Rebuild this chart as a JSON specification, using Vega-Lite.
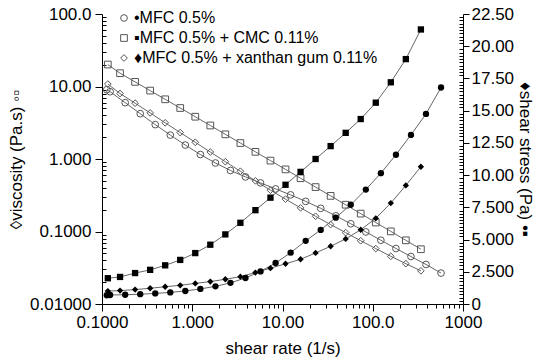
{
  "$schema": "https://vega.github.io/schema/vega-lite/v6.json",
  "width": 361,
  "height": 290,
  "autosize": {"type": "none"},
  "padding": {"left": 102, "top": 14, "right": 77, "bottom": 60},
  "config": {
    "font": "Liberation Sans",
    "view": {"stroke": null},
    "axis": {"grid": false, "domainColor": "black", "tickColor": "black", "labelColor": "black", "titleColor": "black", "labelFontSize": 17, "titleFontSize": 17, "titleFontWeight": "normal", "labelFlush": false, "labelOverlap": false, "domainWidth": 1, "tickWidth": 1}
  },
  "data": {"values": [
    {"s": "MFC 0.5%", "r": 0.113, "v": 9.02, "t": 0.68},
    {"s": "MFC 0.5%", "r": 0.123, "v": 8.47, "t": 0.70},
    {"s": "MFC 0.5%", "r": 0.1807, "v": 5.98, "t": 0.72},
    {"s": "MFC 0.5%", "r": 0.2651, "v": 4.22, "t": 0.76},
    {"s": "MFC 0.5%", "r": 0.389, "v": 2.98, "t": 0.82},
    {"s": "MFC 0.5%", "r": 0.571, "v": 2.137, "t": 0.90},
    {"s": "MFC 0.5%", "r": 0.838, "v": 1.557, "t": 1.01},
    {"s": "MFC 0.5%", "r": 1.23, "v": 1.153, "t": 1.17},
    {"s": "MFC 0.5%", "r": 1.807, "v": 0.881, "t": 1.37},
    {"s": "MFC 0.5%", "r": 2.651, "v": 0.695, "t": 1.64},
    {"s": "MFC 0.5%", "r": 3.89, "v": 0.566, "t": 2.02},
    {"s": "MFC 0.5%", "r": 5.71, "v": 0.468, "t": 2.53},
    {"s": "MFC 0.5%", "r": 8.38, "v": 0.387, "t": 3.18},
    {"s": "MFC 0.5%", "r": 12.3, "v": 0.320, "t": 3.98},
    {"s": "MFC 0.5%", "r": 18.07, "v": 0.2605, "t": 4.9},
    {"s": "MFC 0.5%", "r": 26.51, "v": 0.2087, "t": 5.75},
    {"s": "MFC 0.5%", "r": 38.9, "v": 0.1646, "t": 6.7},
    {"s": "MFC 0.5%", "r": 57.1, "v": 0.1278, "t": 7.7},
    {"s": "MFC 0.5%", "r": 83.8, "v": 0.0986, "t": 8.88},
    {"s": "MFC 0.5%", "r": 123.0, "v": 0.0758, "t": 10.15},
    {"s": "MFC 0.5%", "r": 180.7, "v": 0.0583, "t": 11.58},
    {"s": "MFC 0.5%", "r": 265.1, "v": 0.0452, "t": 13.12},
    {"s": "MFC 0.5%", "r": 389.0, "v": 0.0351, "t": 14.75},
    {"s": "MFC 0.5%", "r": 571.0, "v": 0.0267, "t": 16.8},
    {"s": "MFC 0.5% + CMC 0.11%", "r": 0.116, "v": 20.1, "t": 2.0},
    {"s": "MFC 0.5% + CMC 0.11%", "r": 0.1585, "v": 15.26, "t": 2.1},
    {"s": "MFC 0.5% + CMC 0.11%", "r": 0.2326, "v": 11.58, "t": 2.4},
    {"s": "MFC 0.5% + CMC 0.11%", "r": 0.3415, "v": 8.78, "t": 2.65},
    {"s": "MFC 0.5% + CMC 0.11%", "r": 0.5012, "v": 6.66, "t": 3.0},
    {"s": "MFC 0.5% + CMC 0.11%", "r": 0.7356, "v": 5.05, "t": 3.42},
    {"s": "MFC 0.5% + CMC 0.11%", "r": 1.08, "v": 3.83, "t": 3.95},
    {"s": "MFC 0.5% + CMC 0.11%", "r": 1.585, "v": 2.90, "t": 4.6},
    {"s": "MFC 0.5% + CMC 0.11%", "r": 2.326, "v": 2.19, "t": 5.4},
    {"s": "MFC 0.5% + CMC 0.11%", "r": 3.415, "v": 1.66, "t": 6.3},
    {"s": "MFC 0.5% + CMC 0.11%", "r": 5.012, "v": 1.256, "t": 7.28},
    {"s": "MFC 0.5% + CMC 0.11%", "r": 7.356, "v": 0.950, "t": 8.25},
    {"s": "MFC 0.5% + CMC 0.11%", "r": 10.8, "v": 0.719, "t": 9.25},
    {"s": "MFC 0.5% + CMC 0.11%", "r": 15.85, "v": 0.543, "t": 10.25},
    {"s": "MFC 0.5% + CMC 0.11%", "r": 23.26, "v": 0.410, "t": 11.25},
    {"s": "MFC 0.5% + CMC 0.11%", "r": 34.15, "v": 0.310, "t": 12.25},
    {"s": "MFC 0.5% + CMC 0.11%", "r": 50.12, "v": 0.234, "t": 13.28},
    {"s": "MFC 0.5% + CMC 0.11%", "r": 73.56, "v": 0.1765, "t": 14.35},
    {"s": "MFC 0.5% + CMC 0.11%", "r": 108.0, "v": 0.1331, "t": 15.62},
    {"s": "MFC 0.5% + CMC 0.11%", "r": 158.5, "v": 0.1004, "t": 17.2},
    {"s": "MFC 0.5% + CMC 0.11%", "r": 232.6, "v": 0.0756, "t": 19.0},
    {"s": "MFC 0.5% + CMC 0.11%", "r": 341.5, "v": 0.0570, "t": 21.3},
    {"s": "MFC 0.5% + xanthan gum 0.11%", "r": 0.116, "v": 10.81, "t": 1.0},
    {"s": "MFC 0.5% + xanthan gum 0.11%", "r": 0.1585, "v": 8.00, "t": 1.04},
    {"s": "MFC 0.5% + xanthan gum 0.11%", "r": 0.2326, "v": 5.89, "t": 1.12},
    {"s": "MFC 0.5% + xanthan gum 0.11%", "r": 0.3415, "v": 4.32, "t": 1.22},
    {"s": "MFC 0.5% + xanthan gum 0.11%", "r": 0.5012, "v": 3.155, "t": 1.34},
    {"s": "MFC 0.5% + xanthan gum 0.11%", "r": 0.7356, "v": 2.314, "t": 1.45},
    {"s": "MFC 0.5% + xanthan gum 0.11%", "r": 1.08, "v": 1.702, "t": 1.6},
    {"s": "MFC 0.5% + xanthan gum 0.11%", "r": 1.585, "v": 1.248, "t": 1.74},
    {"s": "MFC 0.5% + xanthan gum 0.11%", "r": 2.326, "v": 0.918, "t": 1.92},
    {"s": "MFC 0.5% + xanthan gum 0.11%", "r": 3.415, "v": 0.678, "t": 2.12},
    {"s": "MFC 0.5% + xanthan gum 0.11%", "r": 5.012, "v": 0.500, "t": 2.44},
    {"s": "MFC 0.5% + xanthan gum 0.11%", "r": 7.356, "v": 0.3713, "t": 2.78},
    {"s": "MFC 0.5% + xanthan gum 0.11%", "r": 10.8, "v": 0.2793, "t": 3.12},
    {"s": "MFC 0.5% + xanthan gum 0.11%", "r": 15.85, "v": 0.2121, "t": 3.47},
    {"s": "MFC 0.5% + xanthan gum 0.11%", "r": 23.26, "v": 0.1621, "t": 3.96},
    {"s": "MFC 0.5% + xanthan gum 0.11%", "r": 34.15, "v": 0.1246, "t": 4.48},
    {"s": "MFC 0.5% + xanthan gum 0.11%", "r": 50.12, "v": 0.0964, "t": 5.05},
    {"s": "MFC 0.5% + xanthan gum 0.11%", "r": 73.56, "v": 0.0746, "t": 5.76},
    {"s": "MFC 0.5% + xanthan gum 0.11%", "r": 108.0, "v": 0.0581, "t": 6.65},
    {"s": "MFC 0.5% + xanthan gum 0.11%", "r": 158.5, "v": 0.0455, "t": 7.83},
    {"s": "MFC 0.5% + xanthan gum 0.11%", "r": 232.6, "v": 0.0360, "t": 9.2},
    {"s": "MFC 0.5% + xanthan gum 0.11%", "r": 341.5, "v": 0.0287, "t": 10.65}
  ]},
  "encoding": {
    "x": {
      "field": "r", "type": "quantitative",
      "scale": {"type": "log", "domain": [0.1, 1000], "nice": false},
      "axis": {
        "title": "shear rate (1/s)",
        "values": [0.1,0.2,0.3,0.4,0.5,0.6,0.7,0.8,0.9,1,2,3,4,5,6,7,8,9,10,20,30,40,50,60,70,80,90,100,200,300,400,500,600,700,800,900,1000],
        "labelExpr": "abs(log(datum.value)/LN10 - round(log(datum.value)/LN10)) < 1e-6 ? format(datum.value, '.4g') : ''",
        "tickSize": {"condition": {"test": "abs(log(datum.value)/LN10 - round(log(datum.value)/LN10)) < 1e-6", "value": 7}, "value": 4},
        "labelPadding": 3,
        "titlePadding": 10
      }
    }
  },
  "layer": [
    {
      "encoding": {
        "y": {
          "field": "v", "type": "quantitative",
          "scale": {"type": "log", "domain": [0.01, 100], "nice": false},
          "axis": {
            "orient": "left",
            "title": "◊viscosity (Pa.s) ◦▫",
            "values": [0.01,0.02,0.03,0.04,0.05,0.06,0.07,0.08,0.09,0.1,0.2,0.3,0.4,0.5,0.6,0.7,0.8,0.9,1,2,3,4,5,6,7,8,9,10,20,30,40,50,60,70,80,90,100],
            "labelExpr": "abs(log(datum.value)/LN10 - round(log(datum.value)/LN10)) < 1e-6 ? format(datum.value, '.4g') : ''",
            "tickSize": {"condition": {"test": "abs(log(datum.value)/LN10 - round(log(datum.value)/LN10)) < 1e-6", "value": 7}, "value": -4},
            "labelPadding": 4,
            "titlePadding": 4
          }
        }
      },
      "layer": [
        {"mark": {"type": "line", "color": "#666", "strokeWidth": 1}, "encoding": {"detail": {"field": "s"}}},
        {"mark": {"type": "point", "filled": false, "stroke": "#555", "fill": "transparent", "strokeWidth": 1, "size": 45, "opacity": 1},
         "encoding": {"shape": {"field": "s", "type": "nominal",
           "scale": {"range": ["circle", "square", "diamond"]},
           "legend": {
           "orient": "none", "legendX": 14, "legendY": -4, "title": null,
           "labelFontSize": 16, "labelColor": "black", "labelLimit": 0, "symbolSize": 45, "rowPadding": 4, "labelOffset": 2,
           "symbolStrokeColor": "#555", "symbolFillColor": "transparent", "symbolStrokeWidth": 1,
           "labelExpr": "(indexof(datum.label, 'CMC') >= 0 ? '▪' : indexof(datum.label, 'xanthan') >= 0 ? '♦' : '•') + datum.label"
         }}}}
      ]
    },
    {
      "encoding": {
        "y": {
          "field": "t", "type": "quantitative",
          "scale": {"domain": [0, 22.5], "nice": false},
          "axis": {
            "orient": "right",
            "title": "♦shear stress (Pa) •▪",
            "values": [0,0.25,0.5,0.75,1,1.25,1.5,1.75,2,2.25,2.5,2.75,3,3.25,3.5,3.75,4,4.25,4.5,4.75,5,5.25,5.5,5.75,6,6.25,6.5,6.75,7,7.25,7.5,7.75,8,8.25,8.5,8.75,9,9.25,9.5,9.75,10,10.25,10.5,10.75,11,11.25,11.5,11.75,12,12.25,12.5,12.75,13,13.25,13.5,13.75,14,14.25,14.5,14.75,15,15.25,15.5,15.75,16,16.25,16.5,16.75,17,17.25,17.5,17.75,18,18.25,18.5,18.75,19,19.25,19.5,19.75,20,20.25,20.5,20.75,21,21.25,21.5,21.75,22,22.25,22.5],
            "labelExpr": "datum.value == 0 ? '0' : abs(datum.value/2.5 - round(datum.value/2.5)) < 1e-6 ? format(datum.value, '.4g') : ''",
            "tickSize": {"condition": {"test": "abs(datum.value/2.5 - round(datum.value/2.5)) < 1e-6", "value": 6}, "value": -4},
            "labelPadding": 2,
            "titlePadding": 2
          }
        }
      },
      "layer": [
        {"mark": {"type": "line", "color": "#666", "strokeWidth": 1}, "encoding": {"detail": {"field": "s"}}},
        {"mark": {"type": "point", "filled": true, "color": "black", "size": 40, "opacity": 1},
         "encoding": {"shape": {"field": "s", "type": "nominal", "legend": null}}}
      ]
    }
  ],
  "resolve": {"scale": {"y": "independent"}}
}
